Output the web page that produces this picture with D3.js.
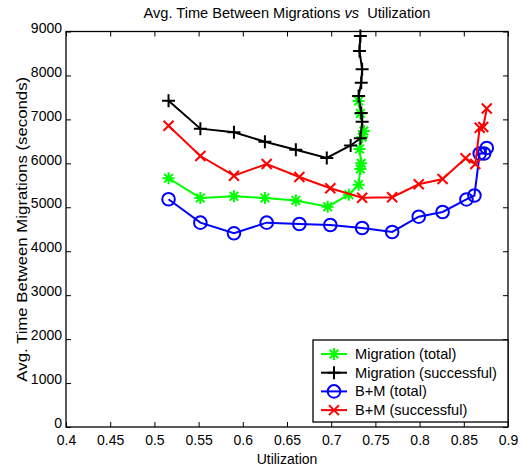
<!DOCTYPE html>
<html><head><meta charset="utf-8">
<script src="https://cdn.jsdelivr.net/npm/d3@7"></script>
<style>body{margin:0;background:#fff}svg{display:block}text{font-family:"Liberation Sans",Arial,sans-serif;fill:#000}</style>
</head><body><div id="chart"></div>
<script>
const title = "Avg. Time Between Migrations vs Utilization";
const xLabel = "Utilization";
const yLabel = "Avg. Time Between Migrations (seconds)";
const xTicks = [0.4,0.45,0.5,0.55,0.6,0.65,0.7,0.75,0.8,0.85,0.9];
const yTicks = [0,1000,2000,3000,4000,5000,6000,7000,8000,9000];

const migTotalX = [0.516,0.552,0.590,0.625,0.660,0.696,0.720,0.731,0.733,0.734,0.732,0.735,0.737,0.733,0.731];
const migTotalY = [5660,5212,5250,5212,5155,5014,5287,5514,5872,6000,6327,6593,6736,7135,7419];
const migSuccX = [0.516,0.552,0.590,0.625,0.660,0.695,0.722,0.733,0.735,0.734,0.731,0.734,0.735,0.732,0.733];
const migSuccY = [7426,6789,6707,6493,6311,6122,6406,6570,6948,7146,7533,7836,8140,8557,8898];
const bmTotalX = [0.516,0.552,0.590,0.627,0.664,0.699,0.735,0.769,0.799,0.826,0.853,0.862,0.868,0.873,0.876];
const bmTotalY = [5182,4650,4408,4650,4620,4597,4529,4438,4786,4893,5178,5268,6224,6224,6350];
const bmSuccX = [0.516,0.552,0.590,0.627,0.664,0.699,0.735,0.769,0.799,0.826,0.852,0.863,0.868,0.872,0.876];
const bmSuccY = [6857,6167,5719,5985,5690,5432,5218,5228,5523,5644,6115,5985,6811,6827,7248];

const series = [
  {name:"Migration (total)", x:migTotalX, y:migTotalY, color:"#00ff00", marker:"asterisk"},
  {name:"Migration (successful)", x:migSuccX, y:migSuccY, color:"#000000", marker:"plus"},
  {name:"B+M (total)", x:bmTotalX, y:bmTotalY, color:"#0000ff", marker:"circle"},
  {name:"B+M (successful)", x:bmSuccX, y:bmSuccY, color:"#ff0000", marker:"cross"}
];

const W=528,H=470, L=66, R=508, T=31.5, B=427;
const svg = d3.select("#chart").append("svg").attr("width",W).attr("height",H);
const x = d3.scaleLinear().domain([0.4,0.9]).range([L,R]);
const y = d3.scaleLinear().domain([0,9000]).range([B,T]);
const fs = 14, fsT = 14.6, fsL = 14.6;

function markerPath(type){
  const p = d3.path();
  if(type==="plus"){const s=6.5;p.moveTo(-s,0);p.lineTo(s,0);p.moveTo(0,-s);p.lineTo(0,s);}
  else if(type==="cross"){const s=5;p.moveTo(-s,-s);p.lineTo(s,s);p.moveTo(-s,s);p.lineTo(s,-s);}
  else if(type==="asterisk"){const s=6,d=4.3;p.moveTo(-s,0);p.lineTo(s,0);p.moveTo(0,-s);p.lineTo(0,s);p.moveTo(-d,-d);p.lineTo(d,d);p.moveTo(-d,d);p.lineTo(d,-d);}
  return p.toString();
}
function drawMarker(g, type, color){
  if(type==="circle"){
    g.append("circle").attr("r",6.3).attr("fill","none").attr("stroke",color).attr("stroke-width",2);
  } else {
    g.append("path").attr("d",markerPath(type)).attr("fill","none").attr("stroke",color).attr("stroke-width",2);
  }
}

// axes (MATLAB box style, ticks inward)
const tl = 5;
const gx = svg.append("g").attr("transform",`translate(0,${B})`)
  .call(d3.axisBottom(x).tickValues(xTicks).tickSize(-tl).tickPadding(5).tickFormat(d3.format("")));
const gxt = svg.append("g").attr("transform",`translate(0,${T})`)
  .call(d3.axisTop(x).tickValues(xTicks).tickSize(-tl).tickFormat(""));
const gy = svg.append("g").attr("transform",`translate(${L},0)`)
  .call(d3.axisLeft(y).tickValues(yTicks).tickSize(-tl).tickPadding(4).tickFormat(d3.format("d")));
const gyr = svg.append("g").attr("transform",`translate(${R},0)`)
  .call(d3.axisRight(y).tickValues(yTicks).tickSize(-tl).tickFormat(""));
[gx,gxt,gy,gyr].forEach(g=>{
  g.select(".domain").remove();
  g.selectAll(".tick line").attr("stroke","#000").attr("stroke-width",1);
  g.selectAll("text").style("font-size",fs+"px").attr("fill","#000");
});
gx.selectAll("text").attr("dy","0.9em");
gy.selectAll("text").attr("dy","0.05em");
svg.append("rect").attr("x",L).attr("y",T).attr("width",R-L).attr("height",B-T)
  .attr("fill","none").attr("stroke","#000").attr("stroke-width",1.3);

// series
series.forEach(s=>{
  const pts = s.x.map((v,i)=>[v,s.y[i]]);
  svg.append("path").datum(pts)
    .attr("d", d3.line().x(d=>x(d[0])).y(d=>y(d[1])))
    .attr("fill","none").attr("stroke",s.color).attr("stroke-width",2);
  pts.forEach(d=>{
    const g = svg.append("g").attr("transform",`translate(${x(d[0])},${y(d[1])})`);
    drawMarker(g, s.marker, s.color);
  });
});

// title
const tt = svg.append("text").attr("x",287).attr("y",18).attr("text-anchor","middle").style("font-size",fsT+"px");
tt.append("tspan").text("Avg. Time Between Migrations ");
tt.append("tspan").style("font-style","italic").text("vs");
tt.append("tspan").attr("xml:space","preserve").text("\u00a0 Utilization");

svg.append("text").attr("x",287).attr("y",464).attr("text-anchor","middle").style("font-size",fs+"px").text(xLabel);
svg.append("text").attr("transform",`translate(27,${(T+B)/2}) rotate(-90) scale(1.2,1)`).attr("text-anchor","middle").style("font-size",fs+"px").text(yLabel);

// legend
const lg = svg.append("g");
const lx0=313, ly0=340, lw=195, lh=82;
lg.append("rect").attr("x",lx0).attr("y",ly0).attr("width",lw).attr("height",lh).attr("fill","#fff").attr("stroke","#000").attr("stroke-width",1.3);
series.forEach((s,i)=>{
  const cy = ly0+14+i*18.7;
  lg.append("line").attr("x1",lx0+8).attr("x2",lx0+34).attr("y1",cy).attr("y2",cy).attr("stroke",s.color).attr("stroke-width",2);
  const g = lg.append("g").attr("transform",`translate(${lx0+21},${cy})`);
  drawMarker(g, s.marker, s.color);
  lg.append("text").attr("x",lx0+42).attr("y",cy+5).style("font-size",fsL+"px").text(s.name);
});
</script></body></html>
